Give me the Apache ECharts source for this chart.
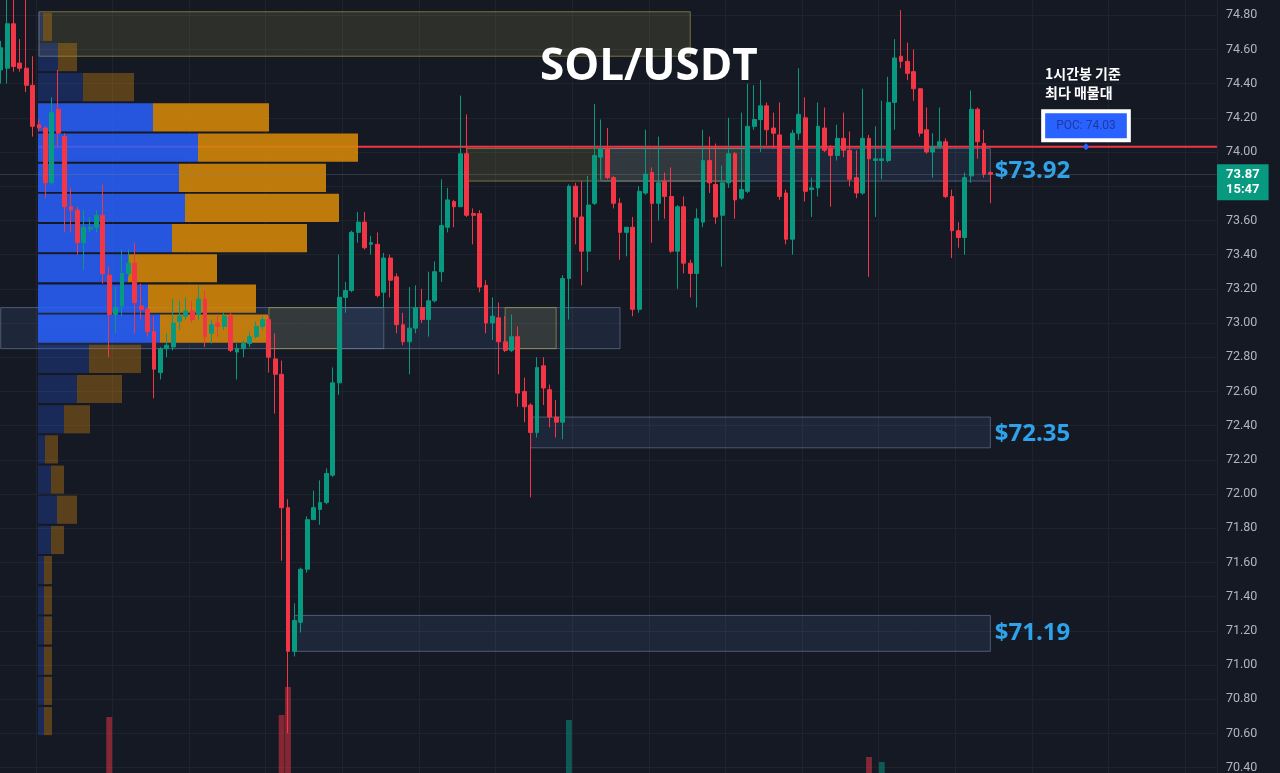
<!DOCTYPE html>
<html><head><meta charset="utf-8">
<script src="https://cdn.jsdelivr.net/npm/echarts@6/dist/echarts.min.js"></script>
<style>html,body{margin:0;padding:0;background:#151924;}#c{width:1280px;height:773px;}</style>
</head><body><div id="c"></div>
<script>
// ---- candle data (1h SOL/USDT) ----
const opens = [74.48,74.49,74.75,74.52,74.49,74.39,74.16,74.14,73.82,74.25,
74.09,73.68,73.66,73.47,73.55,73.56,73.63,73.28,73.05,73.10,
73.29,73.35,73.10,73.08,72.95,72.71,72.85,72.86,73.01,73.04,
73.07,73.05,73.14,72.94,73.00,72.98,73.04,72.83,72.85,72.88,
72.92,72.98,73.02,72.79,72.70,71.92,71.08,71.25,71.56,71.85,
71.91,71.95,72.11,72.65,73.15,73.19,73.53,73.59,73.46,73.46,
73.18,73.38,73.27,72.99,72.89,72.97,73.09,73.02,73.13,73.30,
73.56,73.71,73.68,73.99,73.64,73.64,73.22,73.00,73.03,72.89,
72.84,72.92,72.60,72.52,72.36,72.75,72.61,72.45,72.42,73.26,
73.80,73.62,73.42,73.70,73.97,74.02,73.85,73.70,73.53,73.56,
73.08,73.76,73.88,73.70,73.83,73.74,73.42,73.68,73.35,73.29,
73.59,73.95,73.81,73.63,73.82,73.99,73.73,73.77,74.15,74.19,
74.27,74.14,74.10,73.76,73.49,74.11,74.20,73.78,73.79,74.14,
74.02,73.98,74.08,74.01,73.85,73.76,74.08,73.95,73.95,73.95,
74.29,74.56,74.53,74.47,74.37,74.13,74.00,74.03,74.06,73.74,
73.54,73.50,73.86,74.25,74.05,73.88];
const closes = [74.61,74.75,74.50,74.49,74.39,74.15,74.14,73.82,74.23,74.11,
73.68,73.66,73.47,73.56,73.56,73.63,73.29,73.05,73.09,73.29,
73.35,73.12,73.08,72.95,72.73,72.85,72.87,73.00,73.04,73.07,
73.02,73.14,72.92,72.99,72.98,73.04,72.84,72.85,72.88,72.92,
72.98,73.02,72.80,72.70,71.92,71.08,71.26,71.56,71.85,71.92,
71.95,72.12,72.65,73.15,73.19,73.53,73.59,73.44,73.47,73.16,
73.38,73.25,72.99,72.89,72.97,73.09,73.02,73.13,73.30,73.57,
73.72,73.68,73.99,73.63,73.63,73.21,73.00,73.04,72.89,72.84,
72.92,72.59,72.51,72.36,72.74,72.62,72.45,72.42,73.26,73.80,
73.62,73.42,73.69,73.98,74.02,73.85,73.70,73.53,73.56,73.08,
73.77,73.87,73.70,73.82,73.74,73.42,73.68,73.35,73.29,73.61,
73.95,73.82,73.62,73.82,73.99,73.72,73.78,74.15,74.19,74.27,
74.13,74.11,73.74,73.49,74.11,74.22,73.77,73.79,74.15,74.01,
73.98,74.08,74.01,73.84,73.76,74.08,73.96,73.96,73.96,74.29,
74.55,74.53,74.46,74.37,74.11,74.00,74.03,74.06,73.74,73.54,
73.50,73.85,74.25,74.06,73.87,73.87];
const lows = [74.40,74.40,74.47,74.47,74.35,74.09,74.12,73.73,73.81,74.03,
73.53,73.53,73.40,73.31,73.53,73.53,73.23,72.80,72.94,73.04,
73.27,72.94,73.02,72.92,72.56,72.67,72.80,72.84,72.96,73.02,
73.00,73.02,72.86,72.88,72.92,72.96,72.83,72.67,72.80,72.86,
72.91,72.96,72.71,72.47,71.61,70.60,71.05,71.19,71.54,71.85,
71.82,71.94,72.10,72.58,73.06,73.18,73.47,73.43,73.40,73.15,
73.09,73.15,72.94,72.87,72.70,72.94,73.00,72.92,73.12,73.24,
73.53,73.56,73.68,73.62,73.46,73.18,72.94,72.90,72.70,72.83,
72.83,72.51,72.42,71.98,72.33,72.52,72.39,72.33,72.32,73.02,
73.46,73.22,73.30,73.69,73.84,73.84,73.67,73.37,73.39,73.04,
73.06,73.75,73.47,73.60,73.61,73.41,73.20,73.29,73.15,73.09,
73.56,73.76,73.58,73.33,73.79,73.61,73.72,73.76,74.13,74.00,
74.04,74.02,73.72,73.46,73.40,74.07,73.71,73.62,73.74,74.00,
73.68,73.95,73.97,73.80,73.73,73.75,73.27,73.62,73.84,73.94,
74.13,74.49,74.42,74.30,74.09,73.99,73.85,74.02,73.73,73.38,
73.44,73.40,73.82,73.96,73.85,73.70];
const highs = [74.65,74.92,74.93,74.66,74.95,74.56,74.19,74.15,74.32,74.48,
74.11,73.79,73.68,73.66,73.62,73.66,73.81,73.33,73.21,73.43,
73.43,73.47,73.23,73.09,73.04,72.86,72.94,73.14,73.13,73.15,
73.13,73.22,73.19,73.02,73.05,73.06,73.06,72.88,72.90,72.95,
73.01,73.04,73.04,72.94,72.78,71.97,71.36,71.57,71.87,72.02,
72.08,72.15,72.74,73.40,73.24,73.54,73.65,73.65,73.51,73.53,
73.41,73.40,73.29,73.06,73.21,73.22,73.20,73.30,73.36,73.84,
73.79,73.72,74.33,74.22,73.67,73.66,73.25,73.15,73.12,73.04,
73.05,72.98,72.68,72.53,72.80,72.80,72.64,72.55,73.28,73.81,
73.82,73.83,73.86,74.28,74.19,74.14,73.86,73.73,73.56,73.62,
73.80,74.13,73.91,74.09,73.88,73.91,73.69,73.74,73.37,73.67,
74.13,74.09,74.05,73.92,74.20,74.00,74.23,74.40,74.39,74.42,
74.29,74.23,74.29,73.78,74.13,74.49,74.32,73.85,74.29,74.26,
74.04,74.16,74.23,74.12,74.01,74.37,74.10,74.15,74.30,74.44,
74.66,74.83,74.64,74.60,74.37,74.26,74.11,74.26,74.08,73.78,
73.59,73.88,74.36,74.26,74.13,73.89];
const volumes = [40,55,50,30,45,55,25,60,50,40, 55,25,35,30,20,20,60,192,35,40,
25,45,20,30,55,35,20,40,25,20, 20,30,45,20,15,20,40,25,20,20,
20,20,50,60,196,252,70,75,65,40, 35,45,75,78,40,55,35,40,25,45,
40,30,45,35,40,35,25,35,40,60, 40,20,70,65,25,55,45,25,40,25,
25,50,35,45,55,35,35,25,75,186, 55,50,45,60,45,40,35,40,25,55,
60,40,45,35,30,45,40,45,30,45, 55,35,40,45,45,40,35,55,25,35,
35,25,50,40,60,40,55,25,50,30, 25,30,30,40,35,55,112,60,102,60,
65,45,35,40,50,35,30,35,55,45, 30,55,60,40,40,10];
const TOTAL_SLOTS = 191; // visible bar slots incl. empty future space
const categories = Array.from({length: TOTAL_SLOTS}, (_, i) => 'H' + i);

// ---- volume profile ----
const profileLevels = [74.732,74.555,74.379,74.202,74.026,73.849,73.673,73.496,73.320,73.143,72.967,72.790,
72.614,72.437,72.261,72.084,71.908,71.731,71.555,71.378,71.202,71.025,70.849,70.672];
const profileBuy  = [5,20,45,115,160,141,147,134,90,110,122,51,39,26,7,13,19,13,6,6,6,6,6,6];
const profileSell = [9,19,51,116,160,147,154,135,89,108,108,52,45,26,13,13,20,13,8,8,8,8,8,8];
const PROFILE_STEP = 0.1765;
const VA_HIGH = 74.29, VA_LOW = 72.88;
const POC = 74.03;
const LAST_PRICE = 73.87;

// ---- zones [startBar, endBar, top, bottom] ----
const blueZones = [[0,60,73.09,72.85],[53,97,73.09,72.85]];
const oliveZones = [[6,108,74.82,74.56],[42,53,73.09,72.85],[79,87,73.09,72.85],[73,117,74.02,73.83]];
const levelZones = [[94,155,74.02,73.83,'$73.92',6],[83,155,72.45,72.27,'$72.35',2],[46,155,71.29,71.08,'$71.19',0]];

const candleData = opens.map((o, i) => [o, closes[i], lows[i], highs[i]]);
const volData = volumes.map((v, i) => ({value: v, itemStyle: {color: closes[i] >= opens[i] ? 'rgba(8,153,129,0.5)' : 'rgba(242,54,69,0.5)'}}));

const blueStyle = {color: 'rgba(80,110,170,0.16)', borderColor: 'rgba(130,150,190,0.5)', borderWidth: 1};
const oliveStyle = {color: 'rgba(140,135,70,0.2)', borderColor: 'rgba(190,180,80,0.55)', borderWidth: 1};
const areaData = [];
blueZones.forEach(z => areaData.push([{xAxis: z[0], yAxis: z[2], itemStyle: blueStyle}, {xAxis: z[1], yAxis: z[3]}]));
oliveZones.forEach(z => areaData.push([{xAxis: z[0], yAxis: z[2], itemStyle: oliveStyle}, {xAxis: z[1], yAxis: z[3]}]));
levelZones.forEach(z => areaData.push([{xAxis: z[0], yAxis: z[2], itemStyle: blueStyle,
  label: {show: true, position: 'right', distance: 4, formatter: z[4], color: '#2ea3ea', fontSize: 24, fontWeight: 'bold',
    fontFamily: 'Open Sans', offset: [0, z[5]]}}, {xAxis: z[1], yAxis: z[3]}]));

const GRID_L = -2.49, GRID_R = 63, GRID_T = -19, GRID_B = -28.8;
const chart = echarts.init(document.getElementById('c'), null, {renderer: 'canvas'});
chart.setOption({
  backgroundColor: '#151924',
  animation: false,
  title: {text: 'SOL/USDT', left: 535, top: 40, textStyle: {color: '#ffffff', fontSize: 44, fontWeight: 'bold', fontFamily: 'Open Sans'}},
  graphic: [{type: 'text', left: 1045, top: 64, z: 100,
    style: {text: '1시간봉 기준\n최다 매물대', fill: '#ffffff', font: 'bold 14px "Noto Sans CJK KR"', lineHeight: 19}}],
  grid: [
    {left: GRID_L, right: GRID_R, top: GRID_T, bottom: GRID_B, outerBoundsMode: 'none', containLabel: false},
    {left: 38, right: GRID_R, top: GRID_T, bottom: GRID_B, outerBoundsMode: 'none', containLabel: false},
    {left: GRID_L, right: GRID_R, bottom: -40, height: 300, outerBoundsMode: 'none', containLabel: false}
  ],
  xAxis: [
    {type: 'category', data: categories, gridIndex: 0, boundaryGap: true,
     axisLine: {show: false}, axisTick: {show: false}, axisLabel: {show: false},
     splitLine: {show: true, interval: (i) => i % 12 === 6, lineStyle: {color: '#1f232e', width: 1}}},
    {type: 'value', gridIndex: 1, min: 0, max: 1179, show: false},
    {type: 'category', data: categories, gridIndex: 2, show: false}
  ],
  yAxis: [
    {type: 'value', gridIndex: 0, position: 'right', min: 70.2, max: 75.0, interval: 0.2,
     axisLine: {show: false}, axisTick: {show: false},
     axisLabel: {color: '#b2b5be', fontSize: 12.5, fontFamily: 'Roboto', margin: 9, formatter: v => v.toFixed(2)},
     splitLine: {show: true, lineStyle: {color: '#1f232e', width: 1}}},
    {type: 'value', gridIndex: 1, min: 70.2, max: 75.0, show: false},
    {type: 'value', gridIndex: 2, min: 0, max: 600, show: false}
  ],
  series: [
    {type: 'bar', xAxisIndex: 2, yAxisIndex: 2, data: volData, barWidth: '92%', z: 1},
    {type: 'line', xAxisIndex: 1, yAxisIndex: 1, data: [[0, POC], [1179, POC]], symbol: 'none', z: 1.2,
     lineStyle: {color: '#f23645', width: 2},
     markPoint: {symbol: 'diamond', symbolSize: 7, itemStyle: {color: '#2962ff'},
       data: [{coord: [1048, POC],
         label: {show: true, position: 'top', distance: 5, formatter: 'POC: ' + POC.toFixed(2), color: '#1e3a9e', fontSize: 12,
           fontFamily: 'Roboto', backgroundColor: '#2962ff', borderColor: '#ffffff', borderWidth: 4, padding: [7, 11, 6, 11]}}]}},
    {type: 'custom', xAxisIndex: 1, yAxisIndex: 1, z: 1.5,
     data: profileLevels.map((p, i) => [p, profileBuy[i], profileSell[i]]),
     encode: {x: [1, 2], y: 0},
     renderItem: (params, api) => {
       const mid = api.value(0), buy = api.value(1), sell = api.value(2);
       const top = api.coord([0, mid + PROFILE_STEP / 2]);
       const bot = api.coord([0, mid - PROFILE_STEP / 2]);
       const xb = api.coord([buy, mid])[0];
       const xs = api.coord([buy + sell, mid])[0];
       const inVA = mid <= VA_HIGH && mid >= VA_LOW;
       const y0 = top[1] + 1, h = bot[1] - top[1] - 2;
       return {type: 'group', children: [
         {type: 'rect', shape: {x: top[0], y: y0, width: xb - top[0], height: h},
          style: {fill: inVA ? 'rgba(41,98,255,0.85)' : 'rgba(41,98,255,0.24)'}},
         {type: 'rect', shape: {x: xb, y: y0, width: xs - xb, height: h},
          style: {fill: inVA ? 'rgba(210,133,10,0.9)' : 'rgba(194,124,14,0.4)'}}
       ]};
     }},
    {type: 'candlestick', xAxisIndex: 0, yAxisIndex: 0, data: candleData, barWidth: '68%', z: 2,
     itemStyle: {color: '#089981', color0: '#f23645', borderColor: '#089981', borderColor0: '#f23645', borderWidth: 1},
     markArea: {silent: true, data: areaData},
     markLine: {silent: true, symbol: 'none',
       data: [{yAxis: LAST_PRICE}],
       lineStyle: {color: 'rgba(120,130,140,0.6)', type: 'dotted', width: 1},
       label: {show: true, position: 'end', distance: 0, offset: [0, 8], formatter: LAST_PRICE.toFixed(2) + '\n15:47',
         color: '#ffffff', backgroundColor: '#089981', padding: [3, 9, 3, 9], fontSize: 13, lineHeight: 15,
         fontFamily: 'Roboto', fontWeight: 'bold'}}}
  ]
});
</script></body></html>
